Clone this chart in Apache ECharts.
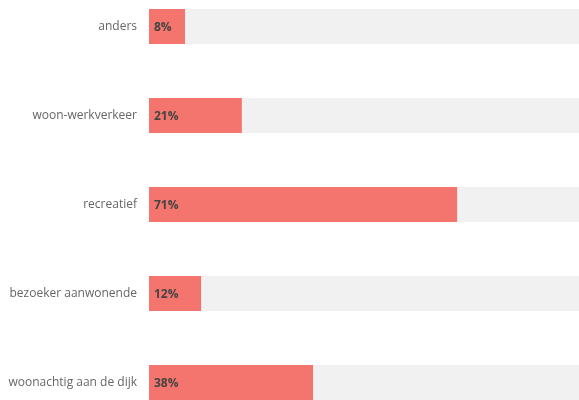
<!DOCTYPE html>
<html><head><meta charset="utf-8">
<script src="https://cdn.jsdelivr.net/npm/echarts@6/dist/echarts.min.js"></script>
<style>html,body{margin:0;padding:0;background:#fff}#c{width:579px;height:400px}</style>
</head><body><div id="c"></div>
<script>
var categories = ['anders', 'woon-werkverkeer', 'recreatief', 'bezoeker aanwonende', 'woonachtig aan de dijk'];
var values = [8.3, 21.4, 71.0, 12.0, 37.8];
var maxValue = 100;
var backgroundValues = categories.map(function(){ return maxValue; });

var chart = echarts.init(document.getElementById('c'), null, {renderer: 'canvas'});
chart.setOption({
  animation: false,
  grid: {left: 149, top: 26.5, width: 434, height: 356, containLabel: false, outerBoundsMode: 'none'},
  xAxis: {type: 'value', min: 0, max: maxValue, show: false},
  yAxis: {
    type: 'category', data: categories, inverse: true, boundaryGap: false,
    axisLine: {show: false}, axisTick: {show: false}, splitLine: {show: false},
    axisLabel: {color: '#666', fontSize: 12, fontFamily: 'Open Sans', margin: 12}
  },
  series: [
    {type: 'bar', data: backgroundValues, barWidth: 35, barGap: '-100%', silent: true,
     itemStyle: {color: '#f1f1f1'}, z: 1},
    {type: 'bar', data: values, barWidth: 35, z: 2,
     itemStyle: {color: '#f4756d'},
     label: {show: true, position: 'insideLeft', offset: [0, 1], distance: 5,
       color: '#444', fontWeight: 'bold', fontSize: 12, fontFamily: 'Open Sans',
       formatter: function(p){ return Math.round(p.value) + '%'; }}}
  ]
});
</script></body></html>
